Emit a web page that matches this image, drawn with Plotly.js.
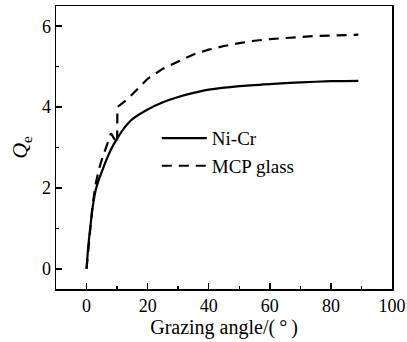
<!DOCTYPE html>
<html><head><meta charset="utf-8">
<script src="https://cdn.plot.ly/plotly-3.0.1.min.js"></script>
<style>html,body{margin:0;padding:0;background:#fff}#plot{width:407px;height:342px}</style>
</head><body><div id="plot"></div>
<script>
const nicrX = [0,0.5,1,2,3,4,5,6,8,10,12,15,20,25,30,35,40,50,60,70,80,89];
const nicrY = [0,0.5,0.87,1.52,1.95,2.2,2.4,2.6,2.95,3.22,3.45,3.7,3.94,4.12,4.25,4.35,4.43,4.52,4.57,4.61,4.64,4.65];
const mcpX = [0,1,2,3,4,5,6,7,8,10,10.1,13.6,17,20,25,30,35,40,45,50,55,60,65,70,75,80,85,89];
const mcpY = [0,0.9,1.6,2.1,2.45,2.7,2.9,3.1,3.35,3.1,4.0,4.21,4.46,4.7,4.95,5.13,5.3,5.42,5.51,5.58,5.64,5.68,5.71,5.73,5.76,5.77,5.78,5.79];
const xTicks = [0,20,40,60,80,100];
const yTicks = [0,2,4,6];
const font = {family:'"Liberation Serif", "Times New Roman", serif', color:'#000'};
const data = [
  {x:nicrX, y:nicrY, name:'Ni-Cr', mode:'lines', line:{color:'#000', width:2.2, shape:'spline', smoothing:0.6}},
  {x:mcpX, y:mcpY, name:'MCP glass', mode:'lines', line:{color:'#000', width:2.2, dash:'10px,7px'}}
];
const axisBase = {showline:true, linecolor:'#000', linewidth:1.5, mirror:true, ticks:'inside', tickcolor:'#000', tickwidth:1.5, ticklen:6, showgrid:false, zeroline:false, tickfont:Object.assign({size:18}, font)};
const layout = {
  width:407, height:342, margin:{l:56, r:15, t:6, b:53},
  paper_bgcolor:'#fff', plot_bgcolor:'#fff', font:font, showlegend:true,
  legend:{x:0.3, y:0.6, xanchor:'left', yanchor:'top', bgcolor:'rgba(0,0,0,0)', itemwidth:45, font:Object.assign({size:19}, font), tracegroupgap:0},
  xaxis:Object.assign({}, axisBase, {range:[-10,100], tickvals:xTicks, ticktext:xTicks.map(String),
    minor:{ticks:'inside', ticklen:3, tickwidth:1.5, tickcolor:'#000', dtick:10, tick0:0},
    title:{text:'Grazing angle/(\u2009°\u2009)', font:Object.assign({size:20}, font), standoff:1}}),
  yaxis:Object.assign({}, axisBase, {range:[-0.5,6.5], tickvals:yTicks, ticktext:yTicks.map(String),
    minor:{ticks:'inside', ticklen:3, tickwidth:1.5, tickcolor:'#000', dtick:1, tick0:0},
    title:{text:'<i>Q</i><sub>e</sub>', font:Object.assign({size:22}, font), standoff:8}})
};
Plotly.newPlot('plot', data, layout, {displayModeBar:false, staticPlot:true});
</script></body></html>
